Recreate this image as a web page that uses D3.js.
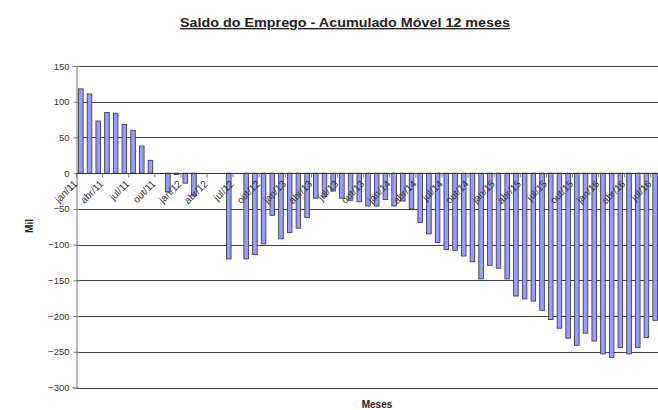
<!DOCTYPE html>
<html>
<head>
<meta charset="utf-8">
<script src="https://cdn.jsdelivr.net/npm/d3@7"></script>
<style>
  body { margin: 0; background: #fff; }
  svg { display: block; font-family: "Liberation Sans", Arial, sans-serif; }
</style>
</head>
<body>
<svg id="chart" width="658" height="410"></svg>
<script>
// meses jan/11 .. jul/16
const monthNames = ['jan', 'fev', 'mar', 'abr', 'mai', 'jun', 'jul', 'ago', 'set', 'out', 'nov', 'dez'];
const months = [];
for (let yr = 11; yr <= 16; yr++) {
  monthNames.forEach(m => { months.push(m + '/' + yr); });
}
months.splice(months.indexOf('jul/16') + 1);

// saldo acumulado 12 meses (mil)
const saldo = [
  118, 111, 73, 85, 84, 68, 60, 38, 18, 0, -26, -2,
  -14, -32, 0, 0, 0, -120, 0, -120, -114, -99, -59, -92,
  -83, -77, -62, -35, -33, -25, -35, -38, -40, -46, -46, -37,
  -46, -39, -50, -69, -85, -97, -107, -108, -116, -124, -148, -129,
  -133, -148, -172, -176, -179, -192, -205, -217, -231, -241, -224, -235,
  -253, -258, -244, -253, -244, -230, -206
];

const yTicks = [150, 100, 50, 0, -50, -100, -150, -200, -250, -300];
const tickLabels = months.filter((d, i) => i % 3 === 0);

const svg = d3.select('#chart');
const plotL = 76.5, plotR = 659.5, plotT = 66, plotB = 387.5;

const x = d3.scaleBand()
  .domain(months)
  .range([plotL, plotR])
  .padding(0);

const y = d3.scaleLinear()
  .domain([-300, 150])
  .range([plotB, plotT]);

const barW = 4.6;

// title
svg.append('text')
  .attr('x', 345)
  .attr('y', 27)
  .attr('text-anchor', 'middle')
  .attr('font-size', '13.5px')
  .attr('font-weight', 'bold')
  .attr('fill', '#222')
  .attr('textLength', 330)
  .attr('lengthAdjust', 'spacingAndGlyphs')
  .style('text-decoration', 'underline')
  .text('Saldo do Emprego - Acumulado Móvel 12 meses');

// gridlines
svg.append('g')
  .selectAll('line')
  .data(yTicks)
  .join('line')
  .attr('x1', plotL)
  .attr('x2', 658)
  .attr('y1', d => Math.round(y(d)) + 0.5)
  .attr('y2', d => Math.round(y(d)) + 0.5)
  .attr('stroke', '#444')
  .attr('stroke-width', 1);

// y axis
const yAxis = svg.append('g')
  .attr('transform', `translate(${plotL},0)`)
  .call(d3.axisLeft(y).tickValues(yTicks).tickSize(4).tickPadding(3));
yAxis.select('.domain').attr('stroke', '#777');
yAxis.selectAll('.tick line').attr('stroke', '#777').attr('x2', 3).attr('x1', -3);
yAxis.selectAll('.tick text')
  .attr('font-family', '"Liberation Sans", Arial, sans-serif')
  .attr('font-size', '9.5px')
  .attr('fill', '#333');

// bars
svg.append('g')
  .selectAll('rect')
  .data(saldo.map((v, i) => ({ m: months[i], v })))
  .join('rect')
  .attr('x', d => x(d.m) + x.bandwidth() / 2 - barW / 2)
  .attr('y', d => y(Math.max(0, d.v)))
  .attr('width', barW)
  .attr('height', d => Math.abs(y(d.v) - y(0)))
  .attr('fill', '#9999ff')
  .attr('stroke', '#333')
  .attr('stroke-width', 0.8);

// x axis (zero line)
const y0 = Math.round(y(0)) + 0.5;
svg.append('line')
  .attr('x1', plotL).attr('x2', 658)
  .attr('y1', y0).attr('y2', y0)
  .attr('stroke', '#333');

svg.append('g')
  .selectAll('line')
  .data(tickLabels)
  .join('line')
  .attr('x1', d => x(d))
  .attr('x2', d => x(d))
  .attr('y1', y0)
  .attr('y2', y0 + 4)
  .attr('stroke', '#777');

svg.append('g')
  .selectAll('text')
  .data(tickLabels)
  .join('text')
  .attr('transform', d => `translate(${x(d) + x.bandwidth() / 2 - 3},${y0 + 11}) rotate(-45)`)
  .attr('text-anchor', 'end')
  .attr('font-size', '10px')
  .attr('fill', '#333')
  .text(d => d);

// axis titles
svg.append('text')
  .attr('transform', 'translate(33,226) rotate(-90)')
  .attr('text-anchor', 'middle')
  .attr('font-size', '10px')
  .attr('font-weight', 'bold')
  .attr('fill', '#222')
  .text('Mil');

svg.append('text')
  .attr('x', 377)
  .attr('y', 408)
  .attr('text-anchor', 'middle')
  .attr('font-size', '10px')
  .attr('font-weight', 'bold')
  .attr('fill', '#222')
  .text('Meses');
</script>
</body>
</html>
